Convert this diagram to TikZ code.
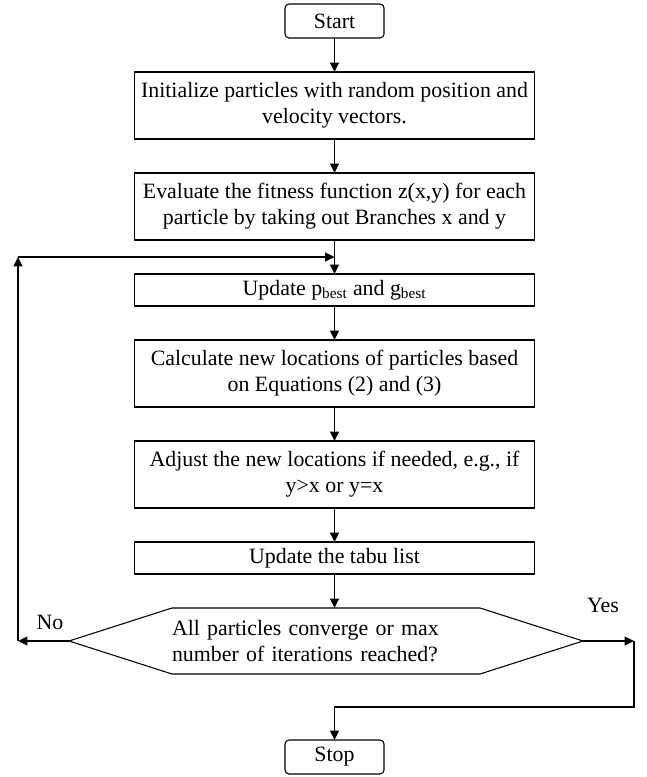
\documentclass[tikz,border=0pt]{standalone}
\usepackage{fontspec}
\setmainfont{Liberation Serif}
\usepackage{tikz}
\usetikzlibrary{arrows.meta,positioning,calc}
\tikzstyle{block} = [rectangle, draw, line width=0.8pt, text centered, align=center, inner xsep=2pt, minimum width=300pt, minimum height=50.25pt, outer sep=0pt]
\tikzstyle{thinblock} = [block, minimum height=24pt]
\tikzstyle{term} = [rectangle, draw, line width=0.8pt, rounded corners=3pt, minimum width=74.25pt, minimum height=25.5pt, outer sep=0pt]
\tikzstyle{decision} = [rectangle, align=left, text width=231pt, inner xsep=77.25pt, inner ysep=2pt, minimum height=49.5pt, outer sep=0pt]
\tikzstyle{flow} = [draw, line width=1.2pt, ->]

\begin{document}
\begin{tikzpicture}[node distance=25.5pt, font=\fontsize{16.4}{19.5}\selectfont, >={Triangle[length=7pt,width=6.5pt]}]
    \useasboundingbox (0,0) rectangle (484.5pt,-582.75pt);
    % 主流程
    \node[term] (start) at (250.875pt,-15.75pt) {Start};
    \node[block, below=of start] (init) {Initialize particles with random position and\\velocity vectors.};
    \node[block, below=of init] (eval) {Evaluate the fitness function z(x,y) for each\\particle by taking out Branches x and y};
    \node[thinblock, below=of eval] (upd) {Update p\textsubscript{best} and g\textsubscript{best}};
    \node[block, below=of upd] (calc) {Calculate new locations of particles based\\on Equations (2) and (3)};
    \node[block, below=of calc] (adj) {Adjust the new locations if needed, e.g., if\\y>x or y=x};
    \node[thinblock, below=of adj] (tabu) {Update the tabu list};
    
    % 判断
    \node[decision, below=of tabu, xshift=-6.375pt] (conv) {All particles converge or max\\number of iterations reached?};
    \draw[line width=0.8pt] (conv.west) -- ([xshift=77.25pt]conv.north west) -- ([xshift=-77.25pt]conv.north east) -- (conv.east) -- ([xshift=-77.25pt]conv.south east) -- ([xshift=77.25pt]conv.south west) -- cycle;
    \node[term, below=49.5pt of conv, xshift=6.375pt] (stop) {Stop};
    \node (no) at ([shift={(-14.25pt,14.25pt)}]conv.west) {No};
    \node (yes) at ([shift={(15pt,27pt)}]conv.east) {Yes};
    
    % 辅助点
    \coordinate (fbj) at ($(eval.south)!0.5!(upd.north)$);
    \coordinate (fbl) at ([xshift=-38.25pt]conv.west);
    \coordinate (fbt) at (fbl |- fbj);
    \coordinate (yr) at ([xshift=38.25pt]conv.east);
    \coordinate (ymid) at ($(conv.south)!0.5!(stop.north)$);
    
    % 连接
    \draw[flow] (start) -- (init);
    \draw[flow] (init) -- (eval);
    \draw[flow] (eval) -- (upd);
    \draw[flow] (upd) -- (calc);
    \draw[flow] (calc) -- (adj);
    \draw[flow] (adj) -- (tabu);
    \draw[flow] (tabu.south) -- (tabu.south |- conv.north);
    
    % 反馈路径
    \draw[flow] (conv.west) -- (fbl);
    \draw[flow] (fbl) -- (fbt);
    \draw[flow] (fbt) -- (fbj);
    \draw[flow] (conv.east) -- (yr);
    \draw[flow] (yr) -- (yr |- ymid) -| (stop);
\end{tikzpicture}
\end{document}
